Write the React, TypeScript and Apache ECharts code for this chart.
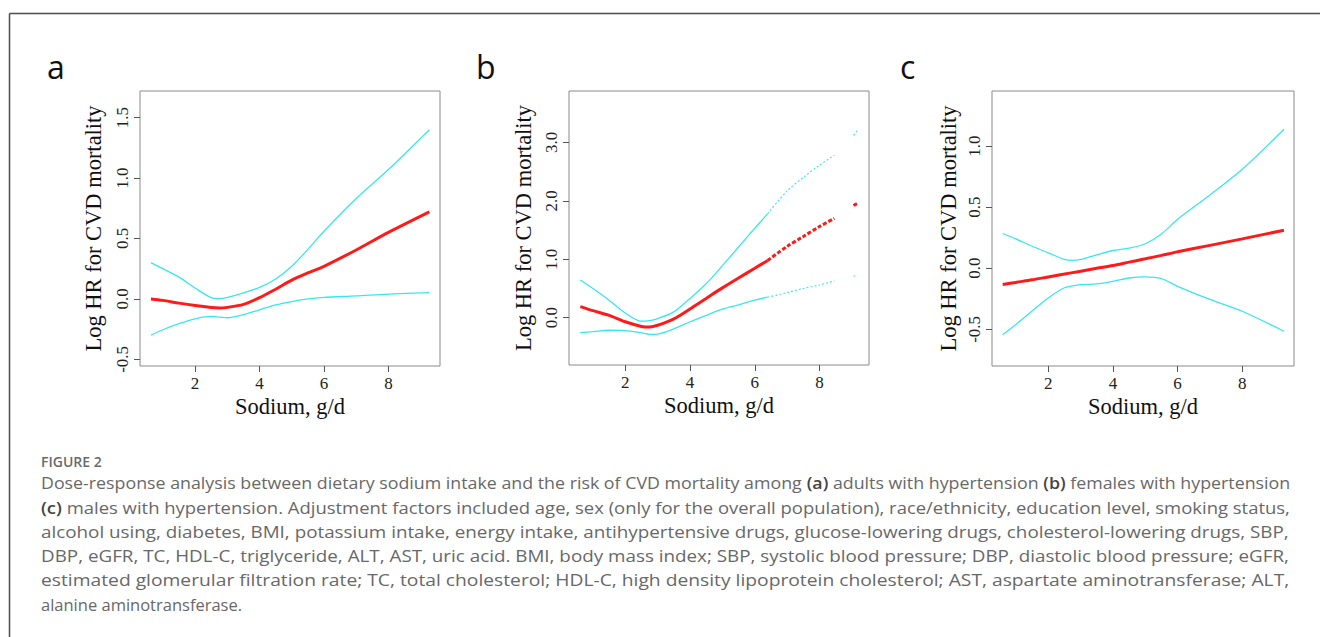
import React, { useEffect, useRef } from "react";
import * as echarts from "echarts";

// ---------- data ----------
const xTicks = [2, 4, 6, 8];

// Panel a: adults with hypertension
const aX = [0.63, 1.0, 1.5, 2.0, 2.5, 2.75, 3.0, 3.5, 4.0, 4.5, 5.0, 5.5, 6.0, 7.0, 8.0, 9.27];
const aFit = [0.0, -0.012, -0.035, -0.055, -0.071, -0.075, -0.07, -0.045, 0.01, 0.08, 0.155, 0.215, 0.27, 0.405, 0.55, 0.72];
const aUpper = [0.3, 0.25, 0.18, 0.09, 0.01, 0.002, 0.012, 0.05, 0.095, 0.165, 0.27, 0.41, 0.56, 0.83, 1.07, 1.4];
const aLower = [-0.3, -0.255, -0.205, -0.165, -0.145, -0.15, -0.156, -0.13, -0.09, -0.05, -0.022, 0.0, 0.012, 0.025, 0.04, 0.052];
const aYTicks = [-0.5, 0, 0.5, 1.0, 1.5];

// Panel b: females with hypertension
const bX = [0.61, 1.0, 1.5, 2.0, 2.5, 2.75, 3.0, 3.5, 4.0, 4.5, 5.0, 5.5, 6.0, 6.4];
const bFit = [0.19, 0.12, 0.04, -0.07, -0.15, -0.16, -0.13, -0.02, 0.15, 0.33, 0.51, 0.68, 0.845, 0.98];
const bUpper = [0.645, 0.5, 0.3, 0.08, -0.06, -0.05, -0.015, 0.1, 0.33, 0.58, 0.89, 1.21, 1.53, 1.78];
const bLower = [-0.257, -0.24, -0.215, -0.22, -0.26, -0.285, -0.28, -0.19, -0.07, 0.04, 0.145, 0.22, 0.3, 0.35];
const bTailX = [6.4, 7.0, 7.5, 8.0, 8.46];
const bTailFit = [0.98, 1.22, 1.39, 1.56, 1.7];
const bTailUpper = [1.78, 2.17, 2.4, 2.61, 2.78];
const bTailLower = [0.35, 0.43, 0.5, 0.56, 0.63];
const bEndX = [9.05, 9.18];
const bEndFit = [1.92, 1.96];
const bEndUpper = [3.12, 3.21];
const bEndLower = [0.71, 0.73];
const bYTicks = [0, 1.0, 2.0, 3.0];

// Panel c: males with hypertension
const cX = [0.59, 1.0, 1.5, 2.0, 2.5, 2.75, 3.0, 3.5, 4.0, 4.5, 5.0, 5.5, 6.0, 7.0, 8.0, 9.29];
const cFit = [-0.134, -0.116, -0.095, -0.071, -0.048, -0.036, -0.025, -0.001, 0.022, 0.05, 0.077, 0.105, 0.134, 0.187, 0.24, 0.311];
const cUpper = [0.284, 0.24, 0.18, 0.126, 0.072, 0.064, 0.072, 0.11, 0.145, 0.165, 0.2, 0.28, 0.4, 0.6, 0.81, 1.137];
const cLower = [-0.544, -0.46, -0.35, -0.243, -0.16, -0.145, -0.135, -0.128, -0.107, -0.08, -0.07, -0.085, -0.148, -0.255, -0.352, -0.516];
const cYTicks = [-0.5, 0, 0.5, 1.0];

const panelLetters = ["a", "b", "c"];
const xName = "Sodium, g/d";
const yName = "Log HR for CVD mortality";

const captionTitle = "FIGURE 2";
const captionLines = [
  "Dose-response analysis between dietary sodium intake and the risk of CVD mortality among {b|(a)} adults with hypertension {b|(b)} females with hypertension",
  "{b|(c)} males with hypertension. Adjustment factors included age, sex (only for the overall population), race/ethnicity, education level, smoking status,",
  "alcohol using, diabetes, BMI, potassium intake, energy intake, antihypertensive drugs, glucose-lowering drugs, cholesterol-lowering drugs, SBP,",
  "DBP, eGFR, TC, HDL-C, triglyceride, ALT, AST, uric acid. BMI, body mass index; SBP, systolic blood pressure; DBP, diastolic blood pressure; eGFR,",
  "estimated glomerular filtration rate; TC, total cholesterol; HDL-C, high density lipoprotein cholesterol; AST, aspartate aminotransferase; ALT,",
  "alanine aminotransferase.",
];
const justifiedLines = [true, true, true, true, true, false];

// ---------- helpers ----------
const zip = (xs: number[], ys: number[]) => xs.map((x, i) => [x, ys[i]]);

const RED = "#ff1a1a";
const CYAN = "#38e6f2";
const SERIF = "'Liberation Serif', 'Times New Roman', serif";
const SANS = "'Open Sans', 'Noto Sans', sans-serif";
const CAP_SIZE = 16.5;

function measureRich(text: string): number {
  const cv = document.createElement("canvas");
  const ctx = cv.getContext("2d");
  if (!ctx) return 0;
  let w = 0;
  const re = /\{b\|([^}]*)\}/g;
  let last = 0;
  let m: RegExpExecArray | null;
  while ((m = re.exec(text))) {
    ctx.font = `${CAP_SIZE}px ${SANS}`;
    w += ctx.measureText(text.slice(last, m.index)).width;
    ctx.font = `600 ${CAP_SIZE}px ${SANS}`;
    w += ctx.measureText(m[1]).width;
    last = m.index + m[0].length;
  }
  ctx.font = `${CAP_SIZE}px ${SANS}`;
  w += ctx.measureText(text.slice(last)).width;
  return w;
}

export default function App() {
  const ref = useRef<HTMLDivElement>(null);

  useEffect(() => {
    document.body.style.margin = "0";
    if (!ref.current) return;
    const chart = echarts.init(ref.current, undefined, { renderer: "svg" });

    const grids = [
      { left: 140, top: 91, width: 300, height: 275 },
      { left: 569, top: 91, width: 300, height: 274 },
      { left: 992, top: 91, width: 302, height: 275 },
    ];
    const xRanges = [
      [0.29, 9.6],
      [0.26, 9.53],
      [0.26, 9.6],
    ];
    const yRanges = [
      [-0.555, 1.72],
      [-0.81, 3.88],
      [-0.8, 1.45],
    ];
    const yTickSets = [aYTicks, bYTicks, cYTicks];
    const yNameGaps = [35, 34, 32];

    const xAxis = grids.map((_, i) => ({
      type: "value",
      gridIndex: i,
      min: xRanges[i][0],
      max: xRanges[i][1],
      axisLine: { show: false, onZero: false },
      splitLine: { show: false },
      axisTick: { show: true, length: 6, customValues: xTicks, lineStyle: { color: "#555" } },
      axisLabel: {
        customValues: xTicks,
        formatter: (v: number) => String(v),
        fontFamily: SERIF,
        fontSize: 17,
        color: "#222",
        margin: 9,
      },
      name: xName,
      nameLocation: "middle",
      nameGap: 29,
      nameTextStyle: { fontFamily: SERIF, fontSize: 22.5, color: "#111" },
    }));

    const yAxis = grids.map((_, i) => ({
      type: "value",
      gridIndex: i,
      min: yRanges[i][0],
      max: yRanges[i][1],
      axisLine: { show: false, onZero: false },
      splitLine: { show: false },
      axisTick: { show: true, length: 6, customValues: yTickSets[i], lineStyle: { color: "#555" } },
      axisLabel: {
        customValues: yTickSets[i],
        formatter: (v: number) => v.toFixed(1),
        rotate: 90,
        fontFamily: SERIF,
        fontSize: 17,
        color: "#222",
        margin: 9,
      },
      name: yName,
      nameLocation: "middle",
      nameRotate: 90,
      nameGap: yNameGaps[i],
      nameTextStyle: { fontFamily: SERIF, fontSize: 22.5, color: "#111" },
    }));

    const line = (idx: number, data: number[][], color: string, width: number, type: any = "solid") => ({
      type: "line",
      xAxisIndex: idx,
      yAxisIndex: idx,
      data,
      smooth: 0.3,
      symbol: "none",
      silent: true,
      lineStyle: { color, width, type },
      z: color === RED ? 3 : 2,
    });

    const series = [
      line(0, zip(aX, aUpper), CYAN, 1.3),
      line(0, zip(aX, aLower), CYAN, 1.3),
      line(0, zip(aX, aFit), RED, 3),
      line(1, zip(bX, bUpper), CYAN, 1.3),
      line(1, zip(bX, bLower), CYAN, 1.3),
      line(1, zip(bX, bFit), RED, 3),
      line(1, zip(bTailX, bTailUpper), CYAN, 1.1, [2, 2]),
      line(1, zip(bTailX, bTailLower), CYAN, 1.1, [2, 2]),
      line(1, zip(bTailX, bTailFit), RED, 3, [4, 2]),
      line(1, zip(bEndX, bEndUpper), CYAN, 1.1, [2, 2]),
      line(1, zip(bEndX, bEndLower), CYAN, 1.1, [2, 2]),
      line(1, zip(bEndX, bEndFit), RED, 3, [4, 2]),
      line(2, zip(cX, cUpper), CYAN, 1.3),
      line(2, zip(cX, cLower), CYAN, 1.3),
      line(2, zip(cX, cFit), RED, 3),
    ];

    const letterX = [47, 476, 900];
    const capLeft = 41;
    const capWidth = 1249;
    const graphic: any[] = [
      { type: "line", shape: { x1: 9.5, y1: 13.5, x2: 1320, y2: 13.5 }, style: { stroke: "#4d4d4d", lineWidth: 1.5 } },
      { type: "line", shape: { x1: 9.5, y1: 13.5, x2: 9.5, y2: 637 }, style: { stroke: "#4d4d4d", lineWidth: 1.5 } },
      ...panelLetters.map((t, i) => ({
        type: "text",
        x: letterX[i],
        y: 66,
        style: { text: t, font: `32px ${SANS}`, fill: "#111", align: "left", verticalAlign: "middle" },
      })),
      {
        type: "text",
        x: capLeft,
        y: 461,
        style: { text: captionTitle, font: `600 14px ${SANS}`, fill: "#6a6a6a", align: "left", verticalAlign: "middle" },
      },
      ...captionLines.map((t, i) => {
        const natural = measureRich(t);
        const sx = justifiedLines[i] && natural > 0 ? capWidth / natural : 1;
        return {
          type: "text",
          x: capLeft,
          y: 483 + i * 24.2,
          scaleX: sx,
          style: {
            text: t,
            font: `${CAP_SIZE}px ${SANS}`,
            fill: "#686868",
            align: "left",
            verticalAlign: "middle",
            rich: { b: { fontFamily: SANS, fontSize: CAP_SIZE, fontWeight: 600, fill: "#444" } },
          },
        };
      }),
    ];

    chart.setOption({
      animation: false,
      backgroundColor: "#fff",
      grid: grids.map((g) => ({ ...g, show: true, borderColor: "#8a8a8a", borderWidth: 1 })),
      xAxis,
      yAxis,
      series,
      graphic,
    });

    return () => chart.dispose();
  }, []);

  return <div ref={ref} style={{ width: 1320, height: 637 }} />;
}
